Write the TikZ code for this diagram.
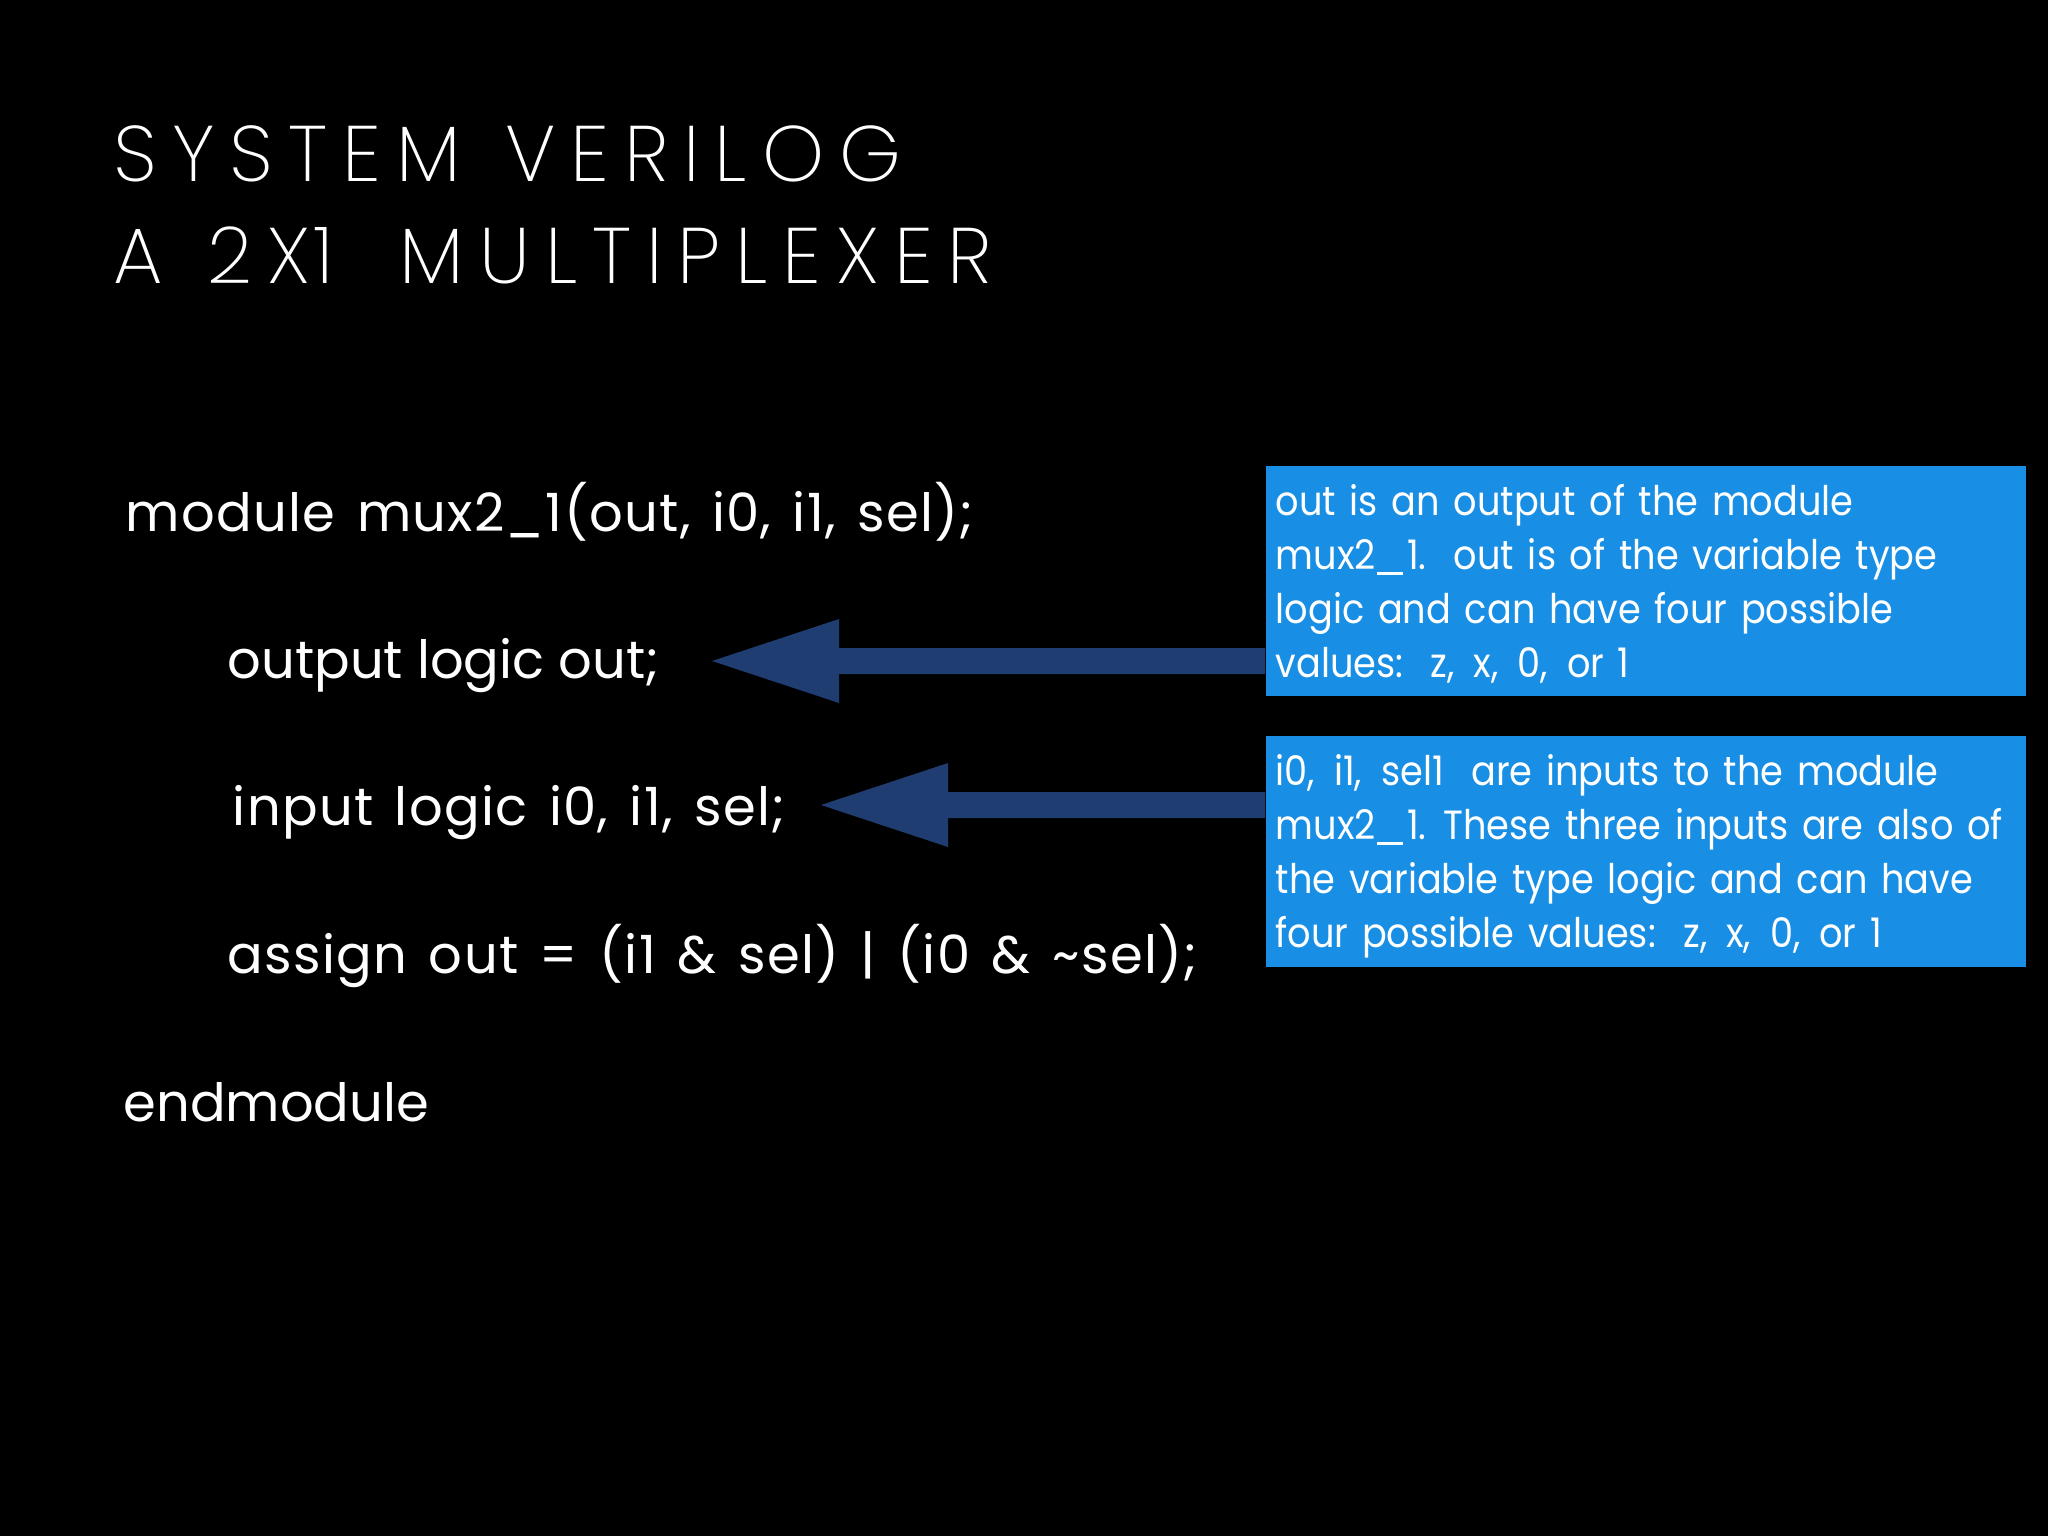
\documentclass[tikz,border=0pt]{standalone}
\usepackage{fontspec}
\usetikzlibrary{calc}
\setmainfont{Poppins}
\IfFontExistsTF{Poppins ExtraLight}
  {\newfontfamily\titlefont[LetterSpace=19, WordSpace=1.2]{Poppins ExtraLight}}
  {\IfFontExistsTF{Poppins Light}
     {\newfontfamily\titlefont[LetterSpace=19, WordSpace=1.2]{Poppins Light}}
     {\newfontfamily\titlefont[LetterSpace=19, WordSpace=1.2]{Poppins}}}
\newfontfamily\codefont[LetterSpace=2.5, WordSpace=1.4]{Poppins}
\newfontfamily\codeplainfont{Poppins}
\newfontfamily\notefont[FakeStretch=0.9, WordSpace=1.4]{Poppins}
\newcommand\cma{,\kern1.5pt\ }
\newcommand\dsp{\ \ }
\newcommand\undl{\kern0.3pt\rule[-1.7pt]{7.4pt}{0.95pt}\kern1.2pt}
\newcommand\muxname{mux2\undl 1}
\definecolor{boxblue}{RGB}{24,142,228}
\definecolor{arrownavy}{RGB}{31,61,112}
\tikzset{
  titletext/.style={anchor=base west, inner sep=0pt, text=white,
    font=\titlefont\fontsize{22.4}{26}\selectfont},
  codetext/.style={anchor=base west, inner sep=0pt, text=white,
    font=\codefont\fontsize{15}{18}\selectfont},
  codeplain/.style={codetext, font=\codeplainfont\fontsize{15}{18}\selectfont},
  notebox/.style={anchor=north west, inner sep=0pt, fill=boxblue,
    minimum width=7.6cm, minimum height=2.3cm},
  notetext/.style={anchor=base west, inner sep=0pt, text=white,
    font=\notefont\fontsize{11.6}{15.36}\selectfont},
  arrowfill/.style={fill=arrownavy}
}
\begin{document}
\begin{tikzpicture}[x=0.01cm, y=-0.01cm]
\fill[black] (0,0) rectangle (2048,1536);
\useasboundingbox (0,0) rectangle (2048,1536);

% title
\node[titletext] (t1) at (113,181) {SYSTEM VERILOG};
\node[titletext] (t2) at (113,283) {A 2X\kern1pt 1\kern6pt{} MULTIPLEXER};

% code
\node[codetext] (c1) at (125,531) {module mux2\_1(out, i0, i1, sel);};
\node[codeplain] (c2) at (227,678) {output logic out;};
\node[codetext] (c3) at (232,825) {input logic i0, i1, sel;};
\node[codetext] (c4) at (227,973) {assign out = (i1 \& sel) \textbar{} (i0 \& \textasciitilde sel);};
\node[codeplain] (c5) at (123,1121) {endmodule};

% note boxes
\node[notebox] (b1) at (1265,465) {};
\node[notebox, minimum height=2.31cm] (b2) at (1265,735) {};
\node[notetext] (n1) at (1275,515) {\parbox[t]{10cm}{\raggedright
  out is an output of the module\\
  \muxname.\dsp out is of the variable type\\
  logic and can have four possible\\
  values:\dsp z\cma x\cma 0\cma or 1}};
\node[notetext] (n2) at (1275,785) {\parbox[t]{10cm}{\raggedright
  i0\cma i1\cma sel1\dsp are inputs to the module\\
  \muxname. These three inputs are also of\\
  the variable type logic and can have\\
  four possible values:\dsp z\cma x\cma 0\cma or 1}};

% arrows (from the note boxes to the code lines)
\coordinate (a1) at (712,661);
\coordinate (a2) at (821,805);
\fill[arrowfill] (a1) -- ($(a1)+(127,-42)$) -- ($(a1)+(127,-13)$)
  -- ($(b1.west |- a1)+(0,-13)$) -- ($(b1.west |- a1)+(0,13)$)
  -- ($(a1)+(127,13)$) -- ($(a1)+(127,42)$) -- cycle;
\fill[arrowfill] (a2) -- ($(a2)+(127,-42)$) -- ($(a2)+(127,-13)$)
  -- ($(b2.west |- a2)+(0,-13)$) -- ($(b2.west |- a2)+(0,13)$)
  -- ($(a2)+(127,13)$) -- ($(a2)+(127,42)$) -- cycle;
\end{tikzpicture}
\end{document}
